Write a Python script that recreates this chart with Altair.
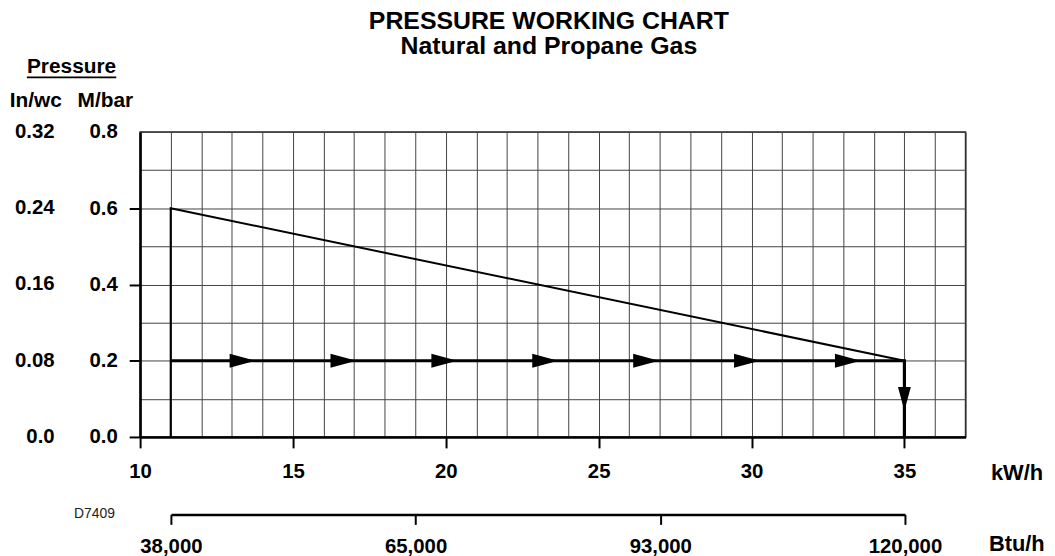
import altair as alt
import pandas as pd

# ---------------- data ----------------
title_lines = ["PRESSURE WORKING CHART", "Natural and Propane Gas"]
kw_grid = [10, 11, 12, 13, 14, 15, 16, 17, 18, 19, 20, 21, 22, 23, 24, 25, 26, 27,
           28, 29, 30, 31, 32, 33, 34, 35, 36, 37]
mbar_grid = [0.0, 0.1, 0.2, 0.3, 0.4, 0.5, 0.6, 0.7, 0.8]
mbar_ticks = [0.0, 0.2, 0.4, 0.6, 0.8]
inwc_labels = ["0.0", "0.08", "0.16", "0.24", "0.32"]
btu_labels = ["38,000", "65,000", "93,000", "120,000"]

slope_kw = [11, 11, 35]
slope_mbar = [0.0, 0.6, 0.2]
flow_kw = [11, 35, 35]
flow_mbar = [0.2, 0.2, 0.0]
arrow_kw = [13.35, 16.65, 19.95, 23.25, 26.55, 29.85, 33.15]
arrow_mbar = [0.2, 0.2, 0.2, 0.2, 0.2, 0.2, 0.2]
down_kw = [35]
down_mbar = [0.1]

FONT = "Liberation Sans"
NUM = 20.5
HEAD = 21
W, H = 831, 307

slope_df = pd.DataFrame({"kw": slope_kw, "mbar": slope_mbar, "i": range(len(slope_kw))})
flow_df = pd.DataFrame({"kw": flow_kw, "mbar": flow_mbar, "i": range(len(flow_kw))})
arrow_df = pd.DataFrame({"kw": arrow_kw, "mbar": arrow_mbar})
down_df = pd.DataFrame({"kw": down_kw, "mbar": down_mbar})
inwc_df = pd.DataFrame({"mbar": mbar_ticks, "lab": inwc_labels})
btu_df = pd.DataFrame({"btu": btu_labels})

xscale = alt.Scale(domain=[10, 37], nice=False, zero=False)
yscale = alt.Scale(domain=[0, 0.8], nice=False, zero=False)

x_axis = alt.Axis(
    values=kw_grid, grid=True, gridColor="#444", gridWidth=1,
    labelExpr="datum.value % 5 == 0 && datum.value < 36 ? datum.label : ''",
    tickColor={"condition": {"test": "datum.value % 5 != 0 || datum.value > 36",
                             "value": "transparent"}, "value": "black"},
    tickSize=11, tickWidth=2, domainColor="black", domainWidth=2.5,
    labelFont=FONT, labelFontSize=NUM, labelFontWeight="bold", labelColor="black",
    labelPadding=14, labelFlush=False, labelOverlap=False,
    title="kW/h", titleFont=FONT, titleFontSize=22, titleFontWeight="bold",
    titleColor="black", titleX=856, titleY=36, titleAlign="left",
    titleBaseline="middle",
)
y_axis = alt.Axis(
    values=mbar_grid, grid=True, gridColor="#444", gridWidth=1,
    labelExpr="round(datum.value * 10) % 2 == 0 ? format(datum.value, '.1f') : ''",
    tickColor={"condition": {"test": "round(datum.value * 10) % 2 != 0 || datum.value > 0.75",
                             "value": "transparent"}, "value": "black"},
    tickSize=11, tickWidth=2, domainColor="black", domainWidth=2.5,
    labelFont=FONT, labelFontSize=NUM, labelFontWeight="bold", labelColor="black",
    labelPadding=12, labelFlush=False, labelOverlap=False, labelBaseline="middle",
    title=None,
)

X = alt.X("kw:Q", scale=xscale, axis=x_axis)
Y = alt.Y("mbar:Q", scale=yscale, axis=y_axis)

slope = alt.Chart(slope_df).mark_line(color="black", strokeWidth=2).encode(
    x=X, y=Y, order="i:Q")
flow = alt.Chart(flow_df).mark_line(color="black", strokeWidth=3.2).encode(
    x=X, y=Y, order="i:Q")
arrows = alt.Chart(arrow_df).mark_point(
    shape="M-1,-0.54L1,0L-1,0.54Z", size=676, filled=True, color="black",
    opacity=1, strokeWidth=0).encode(x=X, y=Y)
down = alt.Chart(down_df).mark_point(
    shape="M-0.54,-1L0.54,-1L0,1Z", size=576, filled=True, color="black",
    opacity=1, strokeWidth=0).encode(x=X, y=Y)
inwc = alt.Chart(inwc_df).mark_text(
    font=FONT, fontSize=NUM, fontWeight="bold", align="right", baseline="middle",
    color="black").encode(x=alt.value(-86), y=Y, text="lab:N")

hdr_df = pd.DataFrame({"t": ["Pressure"]})
pressure = alt.Chart(hdr_df).mark_text(
    font=FONT, fontSize=HEAD, fontWeight="bold", align="center", baseline="middle",
    color="black").encode(x=alt.value(-69), y=alt.value(-65), text="t:N")
underline = alt.Chart(hdr_df).mark_rule(color="black", strokeWidth=2).encode(
    x=alt.value(-114), x2=alt.value(-24), y=alt.value(-55))
inwc_head = alt.Chart(pd.DataFrame({"t": ["In/wc"]})).mark_text(
    font=FONT, fontSize=HEAD, fontWeight="bold", align="center", baseline="middle",
    color="black").encode(x=alt.value(-105), y=alt.value(-31), text="t:N")
mbar_head = alt.Chart(pd.DataFrame({"t": ["M/bar"]})).mark_text(
    font=FONT, fontSize=HEAD, fontWeight="bold", align="center", baseline="middle",
    color="black").encode(x=alt.value(-35), y=alt.value(-31), text="t:N")
code = alt.Chart(pd.DataFrame({"t": ["D7409"]})).mark_text(
    font=FONT, fontSize=14, align="center", baseline="middle", color="#222").encode(
    x=alt.value(-46), y=alt.value(385), text="t:N")

kw_layer = alt.layer(slope, flow, arrows, down, inwc, pressure, underline,
                     inwc_head, mbar_head, code)

btu = alt.Chart(btu_df).mark_point(opacity=0).encode(
    x=alt.X("btu:O", sort=None,
            scale=alt.Scale(type="point", range=[31, 770], padding=0),
            axis=alt.Axis(orient="bottom", offset=78, grid=False,
                          tickSize=10, tickWidth=2, tickColor="black",
                          domainColor="black", domainWidth=2.5,
                          labelFont=FONT, labelFontSize=NUM, labelFontWeight="bold",
                          labelColor="black", labelPadding=12, labelAngle=0,
                          title="Btu/h", titleFont=FONT, titleFontSize=22,
                          titleFontWeight="bold", titleColor="black",
                          titleX=854, titleY=29, titleAlign="left",
                          titleBaseline="middle")))

chart = alt.layer(kw_layer, btu).resolve_scale(x="independent").properties(
    width=W, height=H,
    title=alt.TitleParams(title_lines, font=FONT, fontSize=25, fontWeight="bold",
                          color="black", anchor="middle", frame="group",
                          lineHeight=25, dy=6, dx=-4),
    autosize=alt.AutoSizeParams(type="none"),
    padding={"left": 133, "top": 123, "right": 82, "bottom": 118},
).configure(background="white").configure_view(stroke="#222", strokeWidth=1.5)

chart.save("out.html", embed_options={"renderer": "svg", "actions": False})
